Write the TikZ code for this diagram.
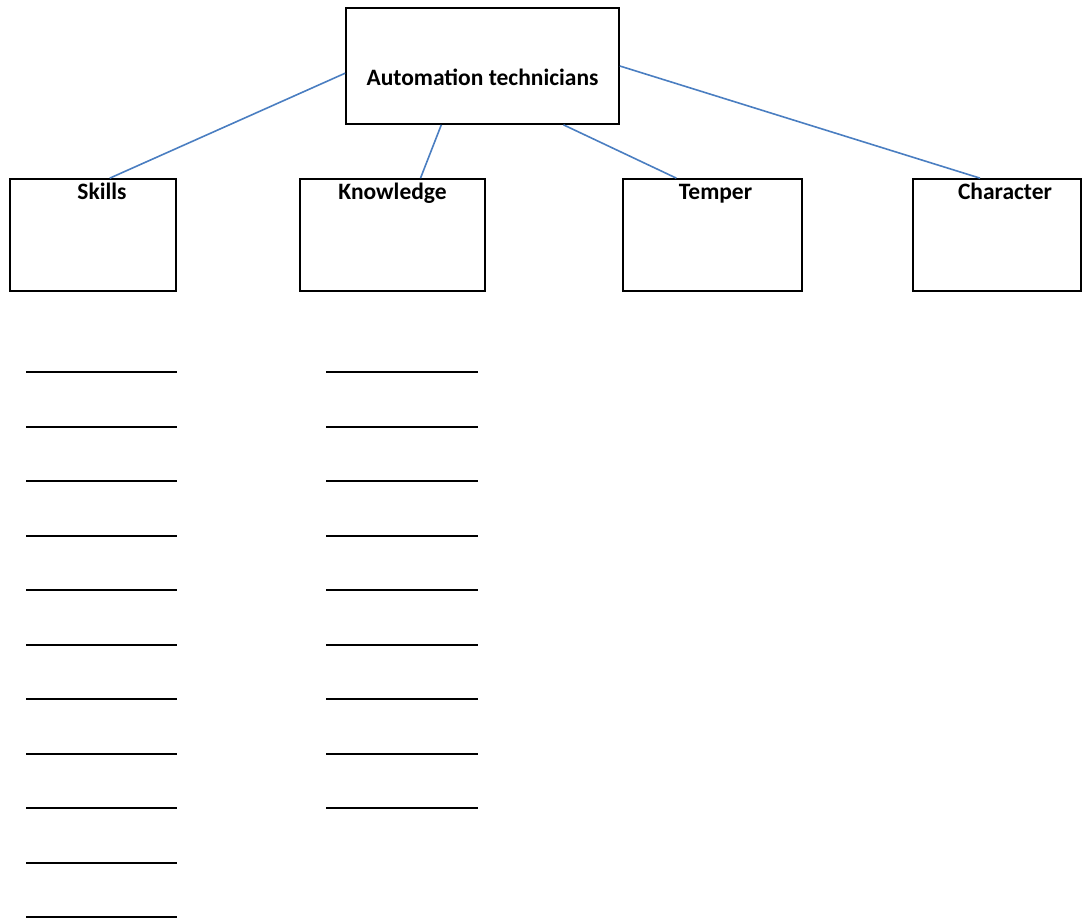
\documentclass[tikz,border=0pt]{standalone}
\usepackage{fontspec}
\setmainfont{Carlito}
\usetikzlibrary{positioning,calc}
\definecolor{linkblue}{HTML}{4A7EC1}

\begin{document}
\begin{tikzpicture}[x=1pt,y=-1pt,
    box/.style={rectangle, draw, line width=1.7pt, minimum height=112pt, inner sep=0pt},
    boxtext/.style={font=\fontsize{23.5}{28}\selectfont\bfseries},
    link/.style={draw=linkblue, line width=1.6pt},
    blank/.style={line width=2pt}]
    \useasboundingbox (0,0) rectangle (1082,922);

    \node[box, minimum width=273pt, minimum height=116pt, label={[boxtext, anchor=base, yshift=-11pt]center:Automation technicians}] (top) at (482.5,66) {};

    \foreach \n/ \t/ \x/ \w/ \s in {skills/Skills/93/166/9, knowledge/Knowledge/392.5/185/0, temper/Temper/712.5/179/3, character/Character/997/168/8}{
        \node[box, minimum width=\w pt, label={[boxtext, anchor=base, yshift=-21pt, xshift=\s pt]north:\t}] (\n) at (\x,235) {};
    }

    \draw[link] (top.183) -- ($(skills.north west)!0.6!(skills.north east)$);
    \draw[link] ($(top.south west)!0.35!(top.south east)$) -- ($(knowledge.north west)!0.65!(knowledge.north east)$);
    \draw[link] ($(top.south west)!0.795!(top.south east)$) -- ($(temper.north west)!0.3!(temper.north east)$);
    \draw[link] (top.east) -- ($(character.north west)!0.4!(character.north east)$);

    % lines to fill in
    \foreach \i in {0,...,10}{
        \draw[blank] (26,{372+54.5*\i}) -- (177,{372+54.5*\i});
    }
    \foreach \i in {0,...,8}{
        \draw[blank] (326,{372+54.5*\i}) -- (478,{372+54.5*\i});
    }

\end{tikzpicture}
\end{document}
